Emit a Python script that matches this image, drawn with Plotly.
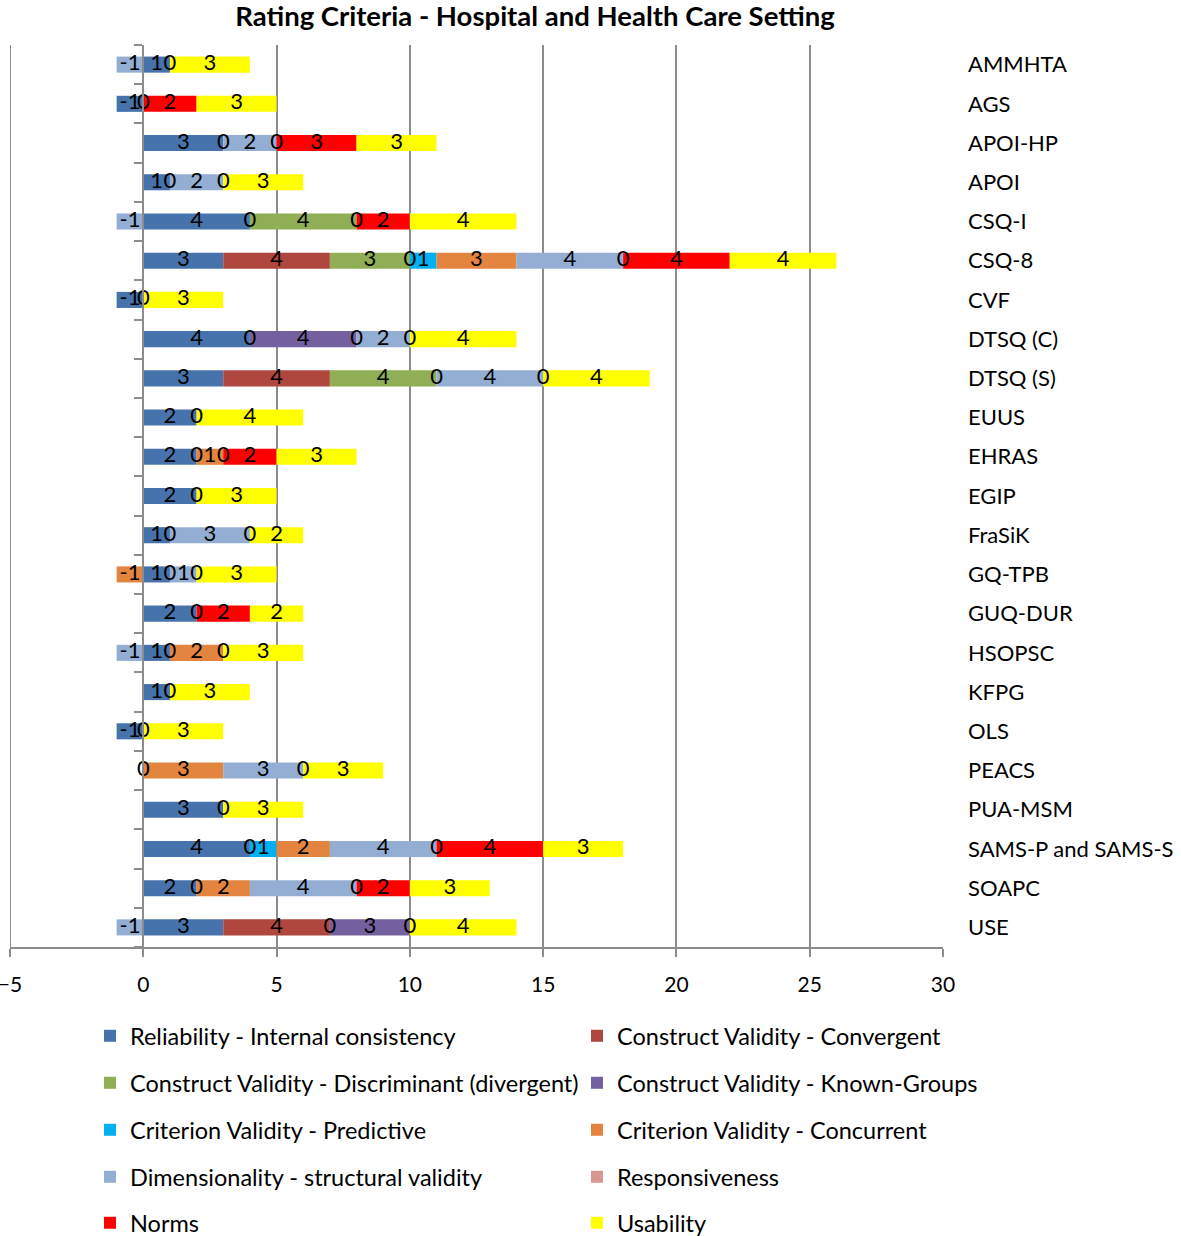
import plotly.graph_objects as go

instruments = ["AMMHTA", "AGS", "APOI-HP", "APOI", "CSQ-I", "CSQ-8", "CVF", "DTSQ (C)",
               "DTSQ (S)", "EUUS", "EHRAS", "EGIP", "FraSiK", "GQ-TPB", "GUQ-DUR", "HSOPSC",
               "KFPG", "OLS", "PEACS", "PUA-MSM", "SAMS-P and SAMS-S", "SOAPC", "USE"]
N = None
reliability   = [1, -1, 3, 1, 4, 3, -1, 4, 3, 2, 2, 2, 1, 1, 2, 1, 1, -1, N, 3, 4, 2, 3]
convergent    = [N, N, N, N, 0, 4, N, 0, 4, N, N, N, N, N, N, N, N, N, N, N, N, N, 4]
discriminant  = [N, N, N, N, 4, 3, N, N, 4, N, N, N, N, N, N, N, N, N, N, N, 0, N, 0]
known_groups  = [N, N, N, N, 0, 0, N, 4, N, N, N, N, N, N, N, N, N, N, N, N, N, N, 3]
predictive    = [N, N, N, N, N, 1, N, N, N, N, 0, N, N, 0, N, 0, N, N, 0, N, 1, 0, N]
concurrent    = [N, N, 0, 0, N, 3, N, 0, 0, N, 1, N, 0, -1, N, 2, N, N, 3, N, 2, 2, N]
dimensional   = [-1, N, 2, 2, -1, 4, N, 2, 4, N, N, N, 3, 1, N, -1, N, N, 3, N, 4, 4, -1]
responsive    = [0, 0, 0, 0, N, 0, 0, 0, 0, 0, 0, 0, 0, 0, 0, 0, 0, 0, 0, 0, 0, 0, 0]
norms         = [N, 2, 3, N, 2, 4, N, N, N, N, 2, N, N, N, 2, N, N, N, N, N, 4, 2, N]
usability     = [3, 3, 3, 3, 4, 4, 3, 4, 4, 4, 3, 3, 2, 3, 2, 3, 3, 3, 3, 3, 3, 3, 4]

series_names = ["Reliability - Internal consistency", "Construct Validity - Convergent",
                "Construct Validity - Discriminant (divergent)", "Construct Validity - Known-Groups",
                "Criterion Validity - Predictive", "Criterion Validity - Concurrent",
                "Dimensionality - structural validity", "Responsiveness", "Norms", "Usability"]
series_values = [reliability, convergent, discriminant, known_groups, predictive,
                 concurrent, dimensional, responsive, norms, usability]
colors = ["#4673AB", "#B0473F", "#8FAE55", "#74609E", "#00B0F0", "#E3853E",
          "#94AED3", "#D99694", "#FF0000", "#FFFF00"]
x_ticks = [-5, 0, 5, 10, 15, 20, 25, 30]

FONT = "Lato"
n = len(instruments)
ypos = list(range(n))

fig = go.Figure()
legend_keys = ["legend"] + [f"legend{k}" for k in range(2, len(series_names) + 1)]
for name, vals, col, lg in zip(series_names, series_values, colors, legend_keys):
    fig.add_trace(go.Bar(
        y=ypos, x=[0 if v is None else v for v in vals], orientation="h",
        name=name, marker=dict(color=col, line=dict(width=0)), width=0.41,
        legend=lg, hoverinfo="x+name"))

# data labels computed from the stacked values
lx, ly, lt = [], [], []
for i in range(n):
    pos, neg = 0.0, 0.0
    for vals in series_values:
        v = vals[i]
        if v is None:
            continue
        if v >= 0:
            lx.append(pos + v / 2); pos += v
        else:
            lx.append(neg + v / 2); neg += v
        ly.append(i); lt.append(str(v))
fig.add_trace(go.Scatter(x=lx, y=ly, text=lt, mode="text", yaxis="y2",
                         textfont=dict(family=FONT, size=22, color="black"),
                         showlegend=False, hoverinfo="skip"))

grey = "#8C8C8C"
fig.update_layout(
    width=1181, height=1236, barmode="relative",
    plot_bgcolor="white", paper_bgcolor="white",
    margin=dict(l=10, r=238, t=45, b=289, autoexpand=False),
    font=dict(family=FONT, size=20, color="black"),
    title=dict(text="<b>Rating Criteria - Hospital and Health Care Setting</b>",
               font=dict(family=FONT, size=27.5, color="black"),
               x=0.453, xanchor="center", y=1 - 16 / 1236, yanchor="middle",
               xref="container", yref="container"),
    xaxis=dict(range=[-5, 30], tickvals=x_ticks, showgrid=True, gridcolor=grey, gridwidth=2,
               zeroline=False, showline=True, linecolor=grey, linewidth=2,
               ticks="outside", ticklen=8, tickwidth=2, tickcolor=grey,
               tickfont=dict(size=21), ticklabelstandoff=10, ticklabeloverflow="allow",
               fixedrange=True),
    yaxis=dict(range=[n - 0.5, -0.5], anchor="free", position=5 / 35,
               tickvals=[k - 0.5 for k in range(n + 1)], showticklabels=False,
               ticks="outside", ticklen=8, tickwidth=2, tickcolor=grey,
               showline=True, linecolor=grey, linewidth=2, showgrid=False, zeroline=False),
    yaxis2=dict(range=[n - 0.5, -0.5], overlaying="y", side="right",
                tickvals=ypos, ticktext=instruments, showgrid=False, zeroline=False,
                showline=False, ticks="", ticklabelstandoff=24, tickfont=dict(size=22)),
    showlegend=True,
)
# left gridline at the lowest x tick
fig.add_shape(type="line", xref="x", yref="paper", x0=x_ticks[0], x1=x_ticks[0], y0=0, y1=1,
              line=dict(color=grey, width=2), layer="below")

row_y = [1036, 1083, 1130, 1177, 1223]
col_x = [90, 577]
for k, key in enumerate(legend_keys):
    ry = row_y[k // 2]
    cx = col_x[k % 2]
    fig.update_layout({key: dict(orientation="v", x=(cx - 10) / 933, xanchor="left",
                                 y=(947 - ry) / 902, yanchor="middle",
                                 font=dict(family=FONT, size=23.5, color="black"),
                                 bgcolor="rgba(0,0,0,0)", borderwidth=0)})

fig.write_html("out.html", config={"displayModeBar": False},
               post_script="document.body.style.margin='0';document.body.style.padding='0';")
